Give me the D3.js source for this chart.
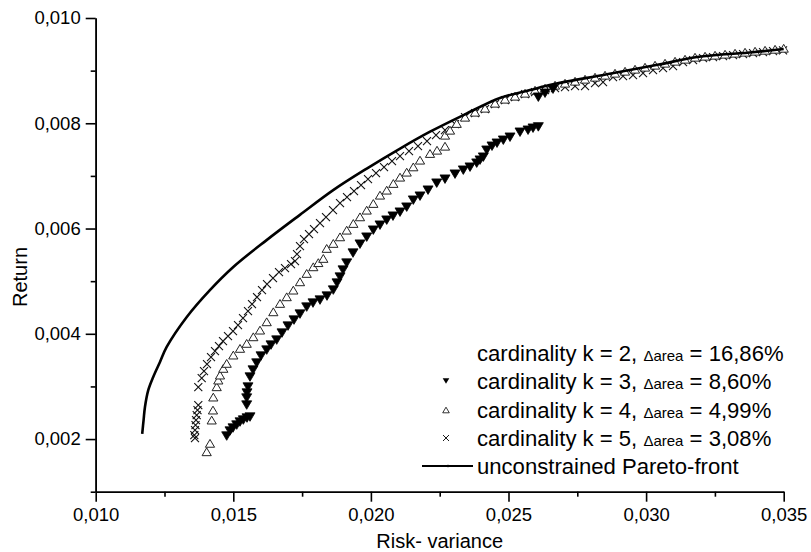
<!doctype html>
<html>
<head>
<meta charset="UTF-8">
<title>Pareto front vs cardinality</title>
<script src="https://d3js.org/d3.v7.min.js"></script>
<style>
  body { margin: 0; background: #fff; }
  text { font-family: "Liberation Sans", Arial, sans-serif; fill: #000; }
</style>
</head>
<body>
<svg id="chart" width="811" height="552"></svg>
<script>
// unconstrained Pareto-front
var frontRisk = [0.01169, 0.01174, 0.01179, 0.01191, 0.01209, 0.01234, 0.01258, 0.01331, 0.01415, 0.01500, 0.01621,
  0.01742, 0.01863, 0.01985, 0.02106, 0.02215, 0.02342, 0.02469, 0.02578, 0.02662, 0.02858,
  0.03051, 0.03185, 0.03388, 0.03500];
var frontReturn = [0.00210, 0.00236, 0.00261, 0.00293, 0.00318, 0.00347, 0.00375, 0.00432, 0.00483, 0.00527, 0.00578,
  0.00626, 0.00673, 0.00714, 0.00752, 0.00784, 0.00817, 0.00848, 0.00863, 0.00874, 0.00893,
  0.00912, 0.00926, 0.00935, 0.00941];

// k = 3 (filled down triangles)
var k3Risk = [0.014760, 0.014880, 0.014989, 0.015124, 0.015244, 0.015364, 0.015498, 0.015607,
  0.015487, 0.015487, 0.015498, 0.015534, 0.015607, 0.015716, 0.015850, 0.016007, 0.016214, 0.016370,
  0.016577, 0.016770, 0.016988, 0.017206, 0.017424, 0.017667, 0.017896, 0.018151, 0.018405, 0.018634,
  0.018769, 0.018878, 0.018987, 0.019121, 0.019350, 0.019604, 0.019848, 0.020088, 0.020331, 0.020575,
  0.020803, 0.021058, 0.021301, 0.021541, 0.021785, 0.022076, 0.022392, 0.022693, 0.023057, 0.023358,
  0.023602, 0.023845, 0.023965, 0.024085, 0.024209, 0.024401, 0.024583, 0.024812, 0.025055, 0.025419,
  0.025710, 0.025891, 0.026084, 0.026084, 0.026327, 0.026618];
var k3Return = [0.002057, 0.002152, 0.002209, 0.002266, 0.002323, 0.002361, 0.002399, 0.002418,
  0.002646, 0.002779, 0.002874, 0.002988, 0.003178, 0.003311, 0.003444, 0.003577, 0.003690, 0.003785,
  0.003880, 0.004013, 0.004146, 0.004260, 0.004374, 0.004507, 0.004583, 0.004640, 0.004716, 0.004830,
  0.004963, 0.005077, 0.005210, 0.005343, 0.005533, 0.005703, 0.005836, 0.005969, 0.006064, 0.006159,
  0.006235, 0.006311, 0.006406, 0.006539, 0.006615, 0.006729, 0.006862, 0.006938, 0.007033, 0.007109,
  0.007166, 0.007242, 0.007299, 0.007356, 0.007488, 0.007564, 0.007621, 0.007678, 0.007735, 0.007830,
  0.007868, 0.007906, 0.007931, 0.008495, 0.008571, 0.008647];

// k = 4 (open up triangles)
var k4Risk = [0.014033, 0.014153, 0.014215, 0.014262, 0.014273,
  0.014397, 0.014455, 0.014517, 0.014637, 0.014760, 0.015000, 0.015244, 0.015487, 0.015727, 0.015970,
  0.016214, 0.016454, 0.016697, 0.016941, 0.017181, 0.017424, 0.017667, 0.017907, 0.018089, 0.018271,
  0.018394, 0.018634, 0.018878, 0.019121, 0.019361, 0.019604, 0.019848, 0.020088, 0.020331, 0.020575,
  0.020815, 0.021058, 0.021301, 0.021541, 0.021785, 0.022148, 0.022403, 0.022693,
  0.022693, 0.022875, 0.023118, 0.023420, 0.023784, 0.024147, 0.024510, 0.024874, 0.025237, 0.025601,
  0.025964, 0.026327, 0.026691, 0.027054, 0.027418, 0.027781, 0.028144, 0.028508, 0.028871, 0.029235,
  0.029598, 0.029961, 0.030325, 0.030688, 0.031052, 0.031415, 0.031778, 0.032142, 0.032505, 0.032869,
  0.033232, 0.033595, 0.033959, 0.034322, 0.034686, 0.035000];
var k4Return = [0.001759, 0.001919, 0.002361, 0.002551, 0.002798,
  0.002994, 0.003121, 0.003216, 0.003343, 0.003438, 0.003596, 0.003723, 0.003818, 0.003943, 0.004070,
  0.004228, 0.004418, 0.004577, 0.004703, 0.004830, 0.004988, 0.005147, 0.005273, 0.005352, 0.005432,
  0.005622, 0.005717, 0.005842, 0.005969, 0.006096, 0.006222, 0.006349, 0.006476, 0.006634, 0.006729,
  0.006856, 0.006976, 0.007071, 0.007171, 0.007299, 0.007426, 0.007488, 0.007564,
  0.007773, 0.007868, 0.007996, 0.008115, 0.008210, 0.008286, 0.008381, 0.008457, 0.008514, 0.008571,
  0.008628, 0.008666, 0.008723, 0.008761, 0.008799, 0.008837, 0.008875, 0.008913, 0.008951, 0.008989,
  0.009027, 0.009065, 0.009103, 0.009141, 0.009179, 0.009217, 0.009255, 0.009274, 0.009293, 0.009312,
  0.009331, 0.009350, 0.009369, 0.009387, 0.009406, 0.009425];

// k = 5 (crosses)
var k5Risk = [0.013608, 0.013583, 0.013608, 0.013627, 0.013645, 0.013670, 0.013699, 0.013728, 0.013728,
  0.013852, 0.013935, 0.014044, 0.014190, 0.014335, 0.014480, 0.014626, 0.014808, 0.014989, 0.015171,
  0.015353, 0.015534, 0.015680, 0.015861, 0.016043, 0.016225, 0.016443, 0.016661, 0.016879, 0.017097,
  0.017242, 0.017315, 0.017424, 0.017569, 0.017751, 0.017933, 0.018151, 0.018369, 0.018623, 0.018878,
  0.019132, 0.019386, 0.019641, 0.019895, 0.020186, 0.020477, 0.020767, 0.021058, 0.021385, 0.021712,
  0.022039, 0.022366, 0.022693, 0.023057, 0.023420, 0.023784, 0.024147, 0.024510, 0.024874, 0.025237,
  0.025601, 0.025964, 0.026327, 0.026691, 0.027054, 0.027418, 0.027781, 0.028144, 0.028435, 0.028798,
  0.029162, 0.029525, 0.029889, 0.030252, 0.030615, 0.030979, 0.031342, 0.031706, 0.032069, 0.032432,
  0.032796, 0.033159, 0.033523, 0.033886, 0.034249, 0.034613, 0.034976];
var k5Return = [0.002019, 0.002076, 0.002171, 0.002266, 0.002361, 0.002456, 0.002551, 0.002646, 0.002988,
  0.003159, 0.003292, 0.003425, 0.003558, 0.003672, 0.003766, 0.003861, 0.003956, 0.004051, 0.004165,
  0.004298, 0.004431, 0.004564, 0.004697, 0.004830, 0.004944, 0.005058, 0.005172, 0.005248, 0.005324,
  0.005381, 0.005514, 0.005665, 0.005798, 0.005893, 0.005988, 0.006102, 0.006216, 0.006349, 0.006482,
  0.006596, 0.006710, 0.006824, 0.006938, 0.007052, 0.007166, 0.007280, 0.007375, 0.007470, 0.007564,
  0.007659, 0.007773, 0.007868, 0.007982, 0.008115, 0.008191, 0.008267, 0.008362, 0.008438, 0.008495,
  0.008552, 0.008590, 0.008628, 0.008666, 0.008685, 0.008704, 0.008704, 0.008761, 0.008780, 0.008875,
  0.008894, 0.008913, 0.008951, 0.009008, 0.009046, 0.009084, 0.009160, 0.009198, 0.009236, 0.009255,
  0.009274, 0.009293, 0.009312, 0.009331, 0.009350, 0.009369, 0.009387];

var xTicks = [0.010, 0.015, 0.020, 0.025, 0.030, 0.035];
var xMinorTicks = [0.0125, 0.0175, 0.0225, 0.0275, 0.0325];
var yTicks = [0.002, 0.004, 0.006, 0.008, 0.010];
var yMinorTicks = [0.001, 0.003, 0.005, 0.007, 0.009];

var legendNames = ["cardinality k = 2, ", "cardinality k = 3, ", "cardinality k = 4, ", "cardinality k = 5, ", "unconstrained Pareto-front"];
var legendDelta = ["16,86%", "8,60%", "4,99%", "3,08%", null];
var legendSymbols = ["none", "down", "up", "cross", "line"];

var svg = d3.select("#chart");

var x = d3.scaleLinear().domain([0.010, 0.035]).range([95.7, 783.7]);
var y = d3.scaleLinear().domain([0.001, 0.010]).range([491.7, 18]);
var fmt = function (d) { return d3.format(".3f")(d).replace(".", ","); };

// axes
svg.append("g").attr("transform", "translate(0,491.7)")
  .call(d3.axisBottom(x).tickValues(xMinorTicks).tickSize(5).tickSizeOuter(0).tickFormat(""));
svg.append("g").attr("transform", "translate(0,491.7)")
  .call(d3.axisBottom(x).tickValues(xTicks).tickSize(10).tickSizeOuter(0).tickPadding(6).tickFormat(fmt));
svg.append("g").attr("transform", "translate(95.7,0)")
  .call(d3.axisLeft(y).tickValues(yMinorTicks).tickSize(5).tickSizeOuter(0).tickFormat(""));
svg.append("g").attr("transform", "translate(95.7,0)")
  .call(d3.axisLeft(y).tickValues(yTicks).tickSize(10).tickSizeOuter(0).tickPadding(5).tickFormat(fmt));

svg.selectAll(".domain, .tick line").attr("stroke", "#000").attr("stroke-width", 1.6);
svg.selectAll(".tick text").attr("font-size", 18.5).attr("font-family", "Liberation Sans, Arial, sans-serif").attr("fill", "#000");

svg.append("text").attr("x", 439.7).attr("y", 548).attr("text-anchor", "middle")
  .attr("font-size", 20).text("Risk- variance");
svg.append("text").attr("transform", "translate(27,277) rotate(-90)").attr("text-anchor", "middle")
  .attr("font-size", 20).text("Return");

// marker paths
function downTri(s) { return "M" + (-s) + "," + (-s * 0.85) + "L" + s + "," + (-s * 0.85) + "L0," + (s * 0.85) + "Z"; }
function upTri(s) { return "M" + (-s) + "," + (s * 0.85) + "L" + s + "," + (s * 0.85) + "L0," + (-s * 0.85) + "Z"; }
function cross(s) { return "M" + (-s) + "," + (-s) + "L" + s + "," + s + "M" + (-s) + "," + s + "L" + s + "," + (-s); }

var plot = svg.append("g");

plot.selectAll(".k5").data(d3.range(k5Risk.length)).enter().append("path")
  .attr("class", "k5")
  .attr("transform", function (i) { return "translate(" + x(k5Risk[i]) + "," + y(k5Return[i]) + ")"; })
  .attr("d", cross(4)).attr("fill", "none").attr("stroke", "#111").attr("stroke-width", 1.1);

plot.selectAll(".k4").data(d3.range(k4Risk.length)).enter().append("path")
  .attr("class", "k4")
  .attr("transform", function (i) { return "translate(" + x(k4Risk[i]) + "," + y(k4Return[i]) + ")"; })
  .attr("d", upTri(4.6)).attr("fill", "#fff").attr("stroke", "#222").attr("stroke-width", 1);

plot.selectAll(".k3").data(d3.range(k3Risk.length)).enter().append("path")
  .attr("class", "k3")
  .attr("transform", function (i) { return "translate(" + x(k3Risk[i]) + "," + y(k3Return[i]) + ")"; })
  .attr("d", downTri(5)).attr("fill", "#000").attr("stroke", "#000").attr("stroke-width", 0.8);

var line = d3.line()
  .x(function (i) { return x(frontRisk[i]); })
  .y(function (i) { return y(frontReturn[i]); })
  .curve(d3.curveCatmullRom.alpha(0.5));
plot.append("path").datum(d3.range(frontRisk.length)).attr("d", line)
  .attr("fill", "none").attr("stroke", "#000").attr("stroke-width", 2.6);

// legend
var legend = svg.append("g");
var rowY = [353, 381, 410, 438, 466];
legendNames.forEach(function (name, i) {
  var t = legend.append("text").attr("x", 477).attr("y", rowY[i]).attr("dy", "0.35em").attr("font-size", 22.1);
  t.append("tspan").text(name);
  if (legendDelta[i]) {
    t.append("tspan").attr("font-size", 15).text("\u0394area");
    t.append("tspan").text(" = " + legendDelta[i]);
  }
  var g = legend.append("g").attr("transform", "translate(446," + rowY[i] + ")");
  if (legendSymbols[i] === "down") g.append("path").attr("d", downTri(3.3)).attr("fill", "#000");
  if (legendSymbols[i] === "up") g.append("path").attr("d", upTri(3.3)).attr("fill", "#fff").attr("stroke", "#000").attr("stroke-width", 0.8);
  if (legendSymbols[i] === "cross") g.append("path").attr("d", cross(3)).attr("stroke", "#000").attr("stroke-width", 0.9);
  if (legendSymbols[i] === "line") {
    g.append("line").attr("x1", -24).attr("x2", 27).attr("stroke", "#000").attr("stroke-width", 2.2);
    g.append("circle").attr("cx", 2).attr("r", 1.3).attr("fill", "#000");
  }
});
</script>
</body>
</html>
